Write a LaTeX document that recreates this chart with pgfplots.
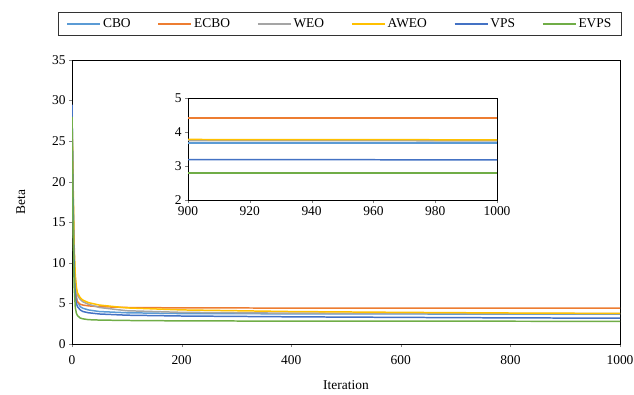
\documentclass[border=0pt]{standalone}
\usepackage{pgfplots}
\pgfplotsset{compat=1.18}
\usepackage{fontspec}
\setmainfont{Liberation Serif}
\definecolor{cCBO}{RGB}{91,155,213}
\definecolor{cECBO}{RGB}{237,125,49}
\definecolor{cWEO}{RGB}{165,165,165}
\definecolor{cAWEO}{RGB}{255,192,0}
\definecolor{cVPS}{RGB}{68,114,196}
\definecolor{cEVPS}{RGB}{112,173,71}
\begin{document}
\begin{tikzpicture}[x=1bp,y=1bp]
\useasboundingbox (0,0) rectangle (634,394);
\pgfplotsset{every axis/.append style={font=\fontsize{13.5}{15}\selectfont},
  /pgf/number format/assume math mode=true,
  /pgf/number format/set thousands separator={},
  every tick label/.append style={font=\fontsize{13.5}{15}\selectfont}}
\begin{axis}[
  scale only axis, width=548bp, height=284bp,
  at={(72bp,50bp)}, anchor=south west,
  xmin=0, xmax=1000, ymin=0, ymax=35,
  xtick={0,200,...,1000}, ytick={0,5,...,35},
  tick align=outside, tick pos=left,
  major tick length=3bp,
  axis line style={black, line width=0.8pt},
  xticklabel style={yshift=-5bp},
  xlabel={Iteration}, ylabel={Beta},
  xlabel style={at={(axis description cs:0.5,0)}, anchor=center, yshift=-41bp},
  ylabel style={yshift=20bp},
  legend columns=6,
  legend style={at={(0.489,1.127)}, anchor=center, draw=black!80, line width=0.8pt,
    font=\fontsize{13.5}{15}\selectfont, /tikz/every even column/.append style={column sep=25bp},
    inner xsep=8bp, inner ysep=4bp},
  legend image code/.code={\draw[#1, line width=1.5pt] (0bp,0bp) -- (33bp,0bp);},
  every axis plot/.append style={line width=1.5pt},
]
\addplot[color=cCBO] coordinates {(0,29) (2,18) (4,10) (6,7) (8,5.8) (10,5.2) (15,4.6) (20,4.4) (30,4.2) (50,4.0) (100,3.85) (200,3.75) (400,3.72) (600,3.7) (800,3.69) (1000,3.68)};
\addlegendentry{CBO}
\addplot[color=cECBO] coordinates {(0,28) (2,16) (4,9) (6,6.5) (8,5.6) (10,5.2) (15,4.9) (20,4.8) (30,4.7) (50,4.6) (100,4.5) (200,4.45) (400,4.43) (600,4.42) (1000,4.42)};
\addlegendentry{ECBO}
\addplot[color=cWEO] coordinates {(0,27) (2,19) (4,11) (6,8) (8,6.7) (10,6.0) (15,5.5) (20,5.2) (30,4.9) (50,4.5) (100,4.1) (200,3.9) (400,3.8) (600,3.77) (800,3.75) (1000,3.74)};
\addlegendentry{WEO}
\addplot[color=cAWEO] coordinates {(0,28) (2,20) (4,12) (6,8.5) (8,7) (10,6.3) (15,5.7) (20,5.4) (30,5.1) (50,4.8) (100,4.45) (200,4.2) (400,4.0) (600,3.9) (800,3.82) (1000,3.77)};
\addlegendentry{AWEO}
\addplot[color=cVPS] coordinates {(0,29.5) (2,17) (4,9) (6,6) (8,5) (10,4.6) (15,4.2) (20,4.0) (30,3.85) (50,3.7) (100,3.55) (200,3.45) (400,3.35) (600,3.28) (800,3.22) (1000,3.18)};
\addlegendentry{VPS}
\addplot[color=cEVPS] coordinates {(0,28) (2,14) (4,7) (6,4.5) (8,3.8) (10,3.5) (15,3.2) (20,3.1) (30,3.0) (50,2.95) (100,2.9) (200,2.85) (400,2.82) (600,2.81) (1000,2.8)};
\addlegendentry{EVPS}
\end{axis}
\begin{axis}[
  scale only axis, width=309bp, height=102bp,
  at={(188bp,194bp)}, anchor=south west,
  xmin=900, xmax=1000, ymin=2, ymax=5,
  xtick={900,920,...,1000}, ytick={2,3,4,5},
  tick align=outside, tick pos=left,
  major tick length=3bp,
  axis line style={black, line width=0.8pt},
  every axis plot/.append style={line width=1.5pt},
  axis background/.style={fill=white},
]
\addplot[color=cCBO] coordinates {(900,3.68) (1000,3.68)};
\addplot[color=cECBO] coordinates {(900,4.41) (1000,4.41)};
\addplot[color=cWEO] coordinates {(900,3.75) (1000,3.74)};
\addplot[color=cAWEO] coordinates {(900,3.78) (1000,3.77)};
\addplot[color=cVPS] coordinates {(900,3.19) (1000,3.18)};
\addplot[color=cEVPS] coordinates {(900,2.8) (1000,2.8)};
\end{axis}
\end{tikzpicture}
\end{document}
